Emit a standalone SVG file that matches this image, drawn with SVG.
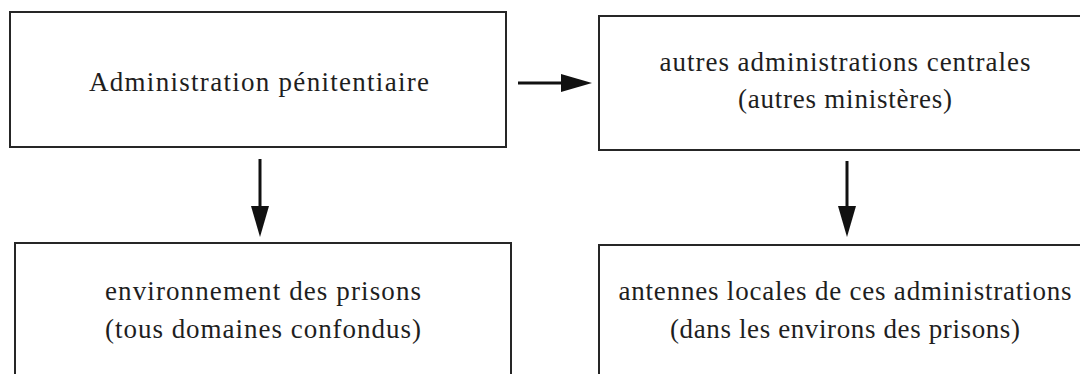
<svg xmlns="http://www.w3.org/2000/svg" width="1080" height="374" viewBox="0 0 1080 374">
  <style>
    .box { fill: #ffffff; stroke: #262626; stroke-width: 2; }
    .lbl { font-family: "Liberation Serif", "DejaVu Serif", serif; font-size: 27px; fill: #1e1e1e; text-anchor: middle; }
    .conn { stroke: #111111; stroke-width: 3; fill: none; }
  </style>
  <defs>
    <marker id="ah" markerUnits="userSpaceOnUse" markerWidth="31" markerHeight="19" viewBox="0 0 31 19" refX="8" refY="9.5" orient="auto">
      <path d="M0,0.5 L31,9.5 L0,18.5 Z" fill="#111111"/>
    </marker>
  </defs>
  <rect width="1080" height="374" fill="#ffffff"/>

  <g id="node-admin-penitentiaire">
    <rect class="box" x="10" y="12" width="496" height="135"/>
    <text class="lbl" x="259" y="91" textLength="340">Administration pénitentiaire</text>
  </g>

  <g id="node-autres-administrations">
    <rect class="box" x="599" y="16" width="500" height="134"/>
    <text class="lbl" x="845" y="71" textLength="371">autres administrations centrales</text>
    <text class="lbl" x="845" y="108" textLength="214">(autres ministères)</text>
  </g>

  <g id="node-environnement">
    <rect class="box" x="15" y="243" width="496" height="150"/>
    <text class="lbl" x="263" y="300" textLength="316">environnement des prisons</text>
    <text class="lbl" x="263" y="338" textLength="316">(tous domaines confondus)</text>
  </g>

  <g id="node-antennes-locales">
    <rect class="box" x="599" y="245" width="500" height="150"/>
    <text class="lbl" x="845" y="300" textLength="453">antennes locales de ces administrations</text>
    <text class="lbl" x="845" y="338" textLength="350">(dans les environs des prisons)</text>
  </g>

  <g id="connectors">
    <line class="conn" x1="518" y1="83" x2="569" y2="83" marker-end="url(#ah)"/>
    <line class="conn" x1="260" y1="159" x2="260" y2="214" marker-end="url(#ah)"/>
    <line class="conn" x1="847" y1="161" x2="847" y2="214" marker-end="url(#ah)"/>
  </g>
</svg>
